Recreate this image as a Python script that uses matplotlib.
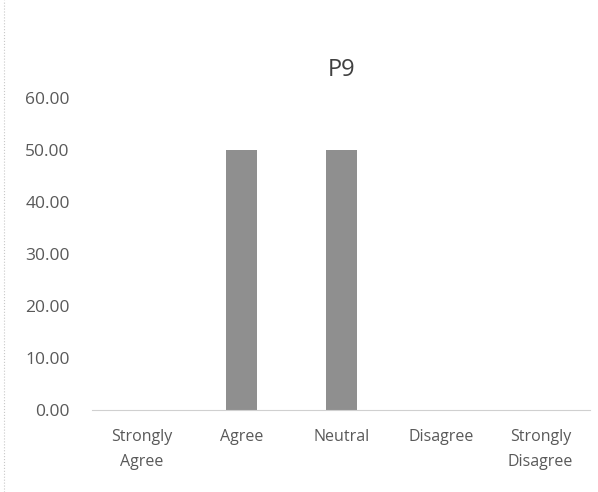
import matplotlib
matplotlib.use("Agg")
import matplotlib.pyplot as plt

categories = ["Strongly\nAgree", "Agree", "Neutral", "Disagree", "Strongly\nDisagree"]
values = [0.0, 50.0, 50.0, 0.0, 0.0]
yticks = [0, 10, 20, 30, 40, 50, 60]


def main():
    plt.rcParams['font.family'] = ['Open Sans', 'DejaVu Sans']
    fig = plt.figure(figsize=(5.98, 4.92), dpi=100)
    ax = fig.add_axes([0.154, 0.1667, 0.833, 0.634])

    x = list(range(len(categories)))
    ax.bar(x, values, width=0.31, color="#8f8f8f", zorder=2)

    ax.set_xlim(-0.5, len(categories) - 0.5)
    ax.set_ylim(0, 60)
    ax.set_yticks(yticks)
    ax.set_yticklabels(["%.2f" % v for v in yticks])
    ax.set_xticks(x)
    ax.set_xticklabels(categories, linespacing=1.7)

    for side in ["left", "right", "top"]:
        ax.spines[side].set_visible(False)
    ax.spines["bottom"].set_color("#d0d0d0")
    ax.spines["bottom"].set_linewidth(0.8)

    ax.tick_params(axis="both", length=0, colors="#595959")
    ax.tick_params(axis="x", pad=14, labelsize=11.5)
    ax.tick_params(axis="y", pad=16, labelsize=12.5)

    ax.set_title("P9", fontsize=17, color="#404040", pad=16)

    # faint chart border on the left edge
    fig.add_artist(plt.Line2D([0.006, 0.006], [0.0, 1.0], color="#c8c8c8",
                              lw=0.8, linestyle=":", transform=fig.transFigure))

    fig.savefig("out.png", dpi=100)


if __name__ == "__main__":
    main()
